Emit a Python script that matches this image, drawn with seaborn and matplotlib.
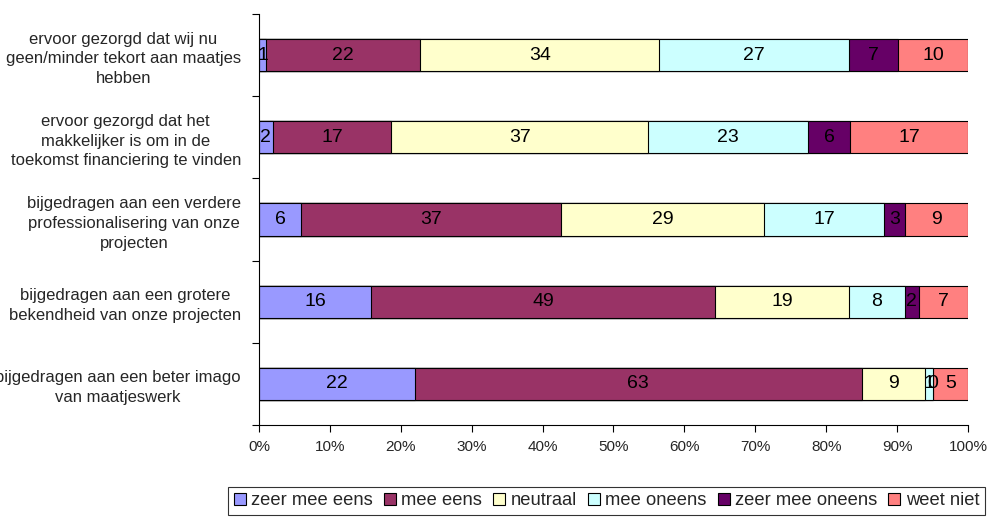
import matplotlib
matplotlib.use("Agg")
import matplotlib.pyplot as plt
from matplotlib.patches import Patch
from matplotlib.ticker import MultipleLocator, FixedLocator, PercentFormatter
import numpy as np
import pandas as pd
import seaborn as sns

# Survey statements (top to bottom)
statements = [
    "ervoor gezorgd dat wij nu\ngeen/minder tekort aan maatjes\nhebben",
    "ervoor gezorgd dat het\nmakkelijker is om in de\ntoekomst financiering te vinden",
    "bijgedragen aan een verdere\nprofessionalisering van onze\nprojecten",
    "bijgedragen aan een grotere\nbekendheid van onze projecten",
    "bijgedragen aan een beter imago\nvan maatjeswerk",
]

# Answer categories and colours
answers = ["zeer mee eens", "mee eens", "neutraal", "mee oneens",
           "zeer mee oneens", "weet niet"]
colors = ["#9999FF", "#993366", "#FFFFCC", "#CCFFFF", "#660066", "#FF8080"]

# Counts per answer, one list per statement
zeer_mee_eens = [1, 2, 6, 16, 22]
mee_eens = [22, 17, 37, 49, 63]
neutraal = [34, 37, 29, 19, 9]
mee_oneens = [27, 23, 17, 8, 1]
zeer_mee_oneens = [7, 6, 3, 2, 0]
weet_niet = [10, 17, 9, 7, 5]

series = [zeer_mee_eens, mee_eens, neutraal, mee_oneens, zeer_mee_oneens, weet_niet]

sns.set_theme(style="white")
plt.rcParams["font.family"] = ["Liberation Sans", "DejaVu Sans"]

counts = np.array(series, dtype=float)          # shape (answers, statements)
shares = counts / counts.sum(axis=0) * 100.0      # 100% stacked
cum = np.cumsum(shares, axis=0)

df = pd.DataFrame({"statement": statements})
for i, a in enumerate(answers):
    df[a] = cum[i]

fig = plt.figure(figsize=(9.88, 5.18), dpi=100)
ax = fig.add_axes([0.2621, 0.1795, 0.7177, 0.7935])

# Draw cumulative bars from the outermost inwards so each segment shows
for i in range(len(answers) - 1, -1, -1):
    sns.barplot(data=df, x=answers[i], y="statement", orient="h",
                color=colors[i], saturation=1, width=0.39,
                edgecolor="black", linewidth=0.8, ax=ax)

# Value labels centred in each segment
for j in range(len(statements)):
    left = 0.0
    for i in range(len(answers)):
        w = shares[i, j]
        ax.text(left + w / 2, j, f"{int(counts[i, j])}", ha="center",
                va="center", fontsize=14, color="black")
        left += w

ax.set_xlim(0, 100)
ax.set_ylim(len(statements) - 0.5, -0.5)
ax.set_xlabel("")
ax.set_ylabel("")
ax.xaxis.set_major_locator(MultipleLocator(10))
ax.xaxis.set_major_formatter(PercentFormatter(decimals=0))
ax.tick_params(axis="x", which="major", length=5, width=0.8, color="black",
               direction="out", bottom=True, labelsize=11, pad=6)

ax.yaxis.set_minor_locator(FixedLocator(np.arange(-0.5, len(statements), 1.0)))
ax.tick_params(axis="y", which="minor", length=5, width=0.8, color="black",
               direction="out", left=True)
ax.tick_params(axis="y", which="major", length=0, labelsize=12, pad=13)
for t in ax.get_yticklabels():
    t.set_multialignment("center")
    t.set_linespacing(1.4)

for s in ["top", "right"]:
    ax.spines[s].set_visible(False)
for s in ["left", "bottom"]:
    ax.spines[s].set_color("black")
    ax.spines[s].set_linewidth(0.8)

handles = [Patch(facecolor=c, edgecolor="black", linewidth=0.8) for c in colors]
leg = fig.legend(handles, answers, loc="upper center", ncol=6,
                 bbox_to_anchor=(0.614, 0.06), fontsize=13.2, frameon=True,
                 fancybox=False, edgecolor="black", handlelength=0.65,
                 handleheight=0.65, handletextpad=0.3, columnspacing=0.6,
                 borderpad=0.3, borderaxespad=0)
leg.get_frame().set_linewidth(0.8)

fig.savefig("out.png", dpi=100)
